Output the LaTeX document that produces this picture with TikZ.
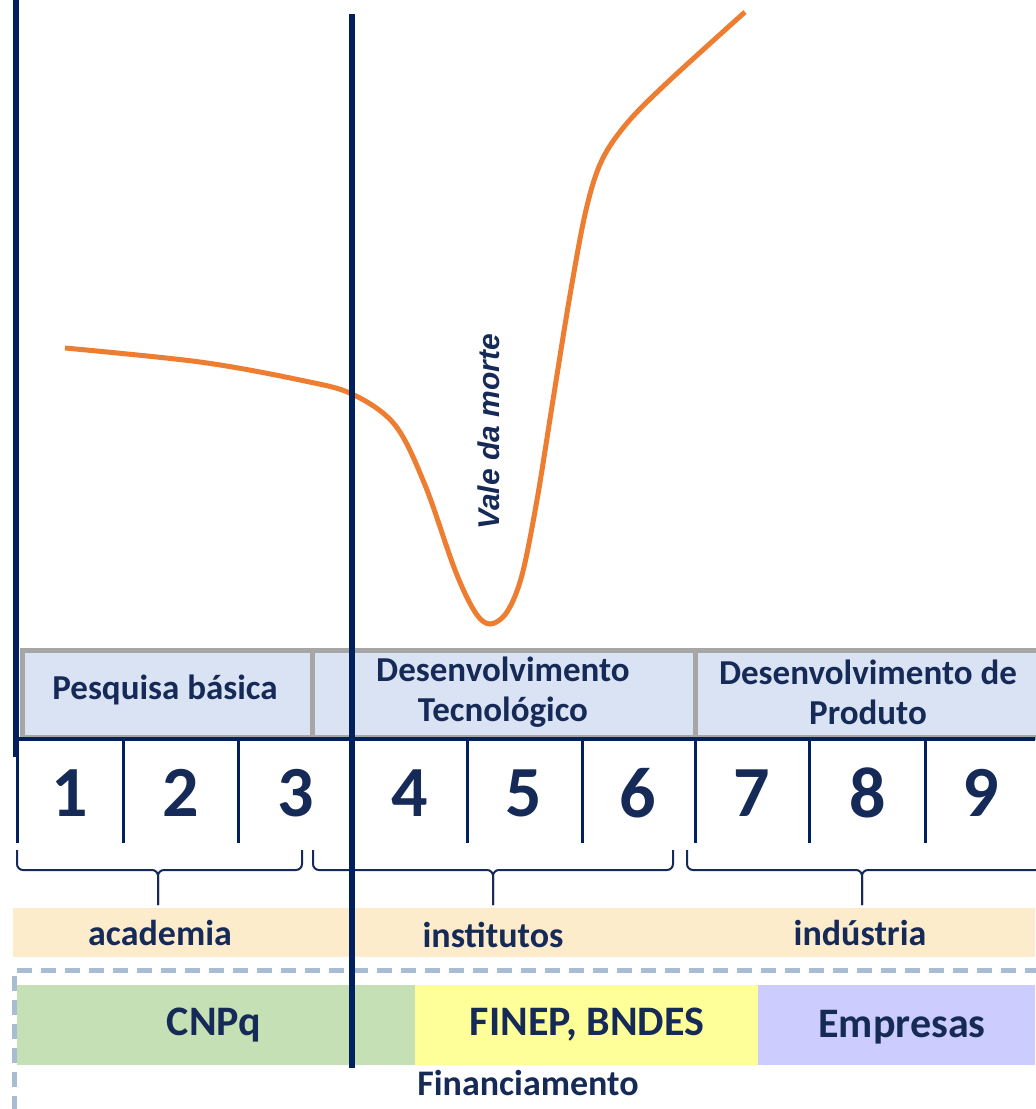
\documentclass[tikz,border=0pt]{standalone}
\usepackage{fontspec}
\setmainfont{Carlito}
\newfontfamily\valefont{Liberation Sans}
\usetikzlibrary{positioning}
\definecolor{navyline}{RGB}{0,32,96}
\definecolor{navytext}{RGB}{22,42,88}
\definecolor{curveorange}{RGB}{237,125,49}
\definecolor{stagefill}{RGB}{218,227,243}
\definecolor{stageedge}{RGB}{166,166,166}
\definecolor{actorfill}{RGB}{253,236,204}
\definecolor{framedash}{RGB}{168,188,212}
\definecolor{cnpqfill}{RGB}{197,224,180}
\definecolor{finepfill}{RGB}{255,255,153}
\definecolor{empfill}{RGB}{204,204,255}

\begin{document}
\begin{tikzpicture}[x=0.5pt, y=-0.5pt,
  stagebox/.style={fill=stagefill, draw=stageedge, line width=2.5pt},
  stagetext/.style={font=\bfseries\fontsize{17.5}{20}\selectfont, text=navytext, align=center},
  numtext/.style={font=\bfseries\fontsize{36}{40}\selectfont, text=navytext},
  divider/.style={navyline, line width=1.5pt},
  bracket/.style={navytext, line width=1pt, rounded corners=3pt},
  actortext/.style={font=\bfseries\fontsize{18}{20}\selectfont, text=navytext},
  fundtext/.style={font=\bfseries\fontsize{21}{24}\selectfont, text=navytext},
  phaseline/.style={navyline, line width=3.2pt}]
\useasboundingbox (0,0) rectangle (1035,1109);
% stages of development
\draw[stagebox] (22,650) rectangle (312,737);
\draw[stagebox] (312,650) rectangle (695,737);
\draw[stagebox] (695,650) rectangle (1045,737);
\node[stagetext] (basica) at (165,690) {Pesquisa básica};
\node[stagetext] (tecno) at (503,692) {Desenvolvimento\\Tecnológico};
\node[stagetext] (produto) at (868,692) {Desenvolvimento de\\Produto};
\draw[navyline, line width=2pt] (17,739) -- (1035,739);
% readiness levels 1..9
\foreach \x in {123,238,467,582,695,809,925}{
  \draw[divider] (\x,741) -- (\x,843);
}
\foreach \x [count=\i] in {70,181,296,410,524,638,752,868,981}{
  \node[numtext] (n\i) at (\x,793) {\i};
}
% brackets grouping the levels
\foreach \a/\m/\b in {17/158/302, 313/493/673, 687/862/1045}{
  \draw[bracket] (\a,850) -- (\a,870) -- (\m,870) -- (\m,905);
  \draw[bracket] (\b,850) -- (\b,870) -- (\m,870) -- (\m,905);
}
% actors
\fill[actorfill] (13,908) rectangle (1035,957);
\node[actortext] (academia) at (160,933) {academia};
\node[actortext] (institutos) at (493,935) {institutos};
\node[actortext] (industria) at (860,933) {indústria};
% funding
\draw[framedash, line width=2.5pt, dash pattern=on 7.5pt off 4.5pt] (1040,970) -- (14,970) -- (14,1112);
\fill[cnpqfill] (17,985) rectangle (415,1065);
\fill[finepfill] (415,985) rectangle (758,1065);
\fill[empfill] (758,985) rectangle (1035,1065);
\node[fundtext] (cnpq) at (214,1025) {CNPq};
\node[fundtext] (finep) at (587,1025) {FINEP, BNDES};
\node[fundtext] (empresas) at (902,1027) {Empresas};
\node[actortext] (financ) at (528,1083) {Financiamento};
% valley of death curve
\draw[curveorange, line width=2.5pt] plot[smooth, tension=0.55] coordinates {(65,348) (200,362) (300,380) (352,394) (395,425) (425,485) (455,570) (475,612) (490,624) (507,612) (522,575) (537,500) (553,400) (570,295) (586,210) (602,160) (628,122) (670,80) (745,12)};
\node[rotate=90, font=\valefont\bfseries\itshape\fontsize{15}{18}\selectfont, text=navytext] (vale) at (489,432) {Vale da morte};
% phase limits
\draw[phaseline] (16,0) -- (16,757);
\draw[navyline, line width=1.5pt] (17,737) -- (17,843);
\draw[phaseline] (352,14) -- (352,1068);
\end{tikzpicture}
\end{document}
